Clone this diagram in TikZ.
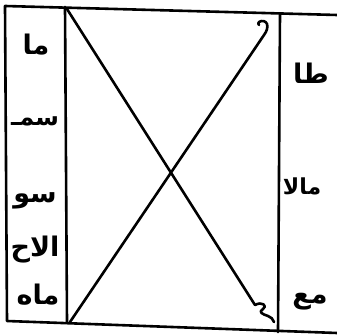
\documentclass[tikz,border=0pt]{standalone}
\usepackage{fontspec}
\newfontfamily\arabicfont[Script=Arabic]{DejaVu Sans}
\TeXXeTstate=1
\begin{document}
\begin{tikzpicture}[x=1pt,y=-1pt,
  ink/.style={line width=2.6pt,line cap=round,line join=round,black},
  lbl/.style={font=\arabicfont\bfseries\fontsize{27}{30}\selectfont,inner sep=0pt,anchor=center}]
\useasboundingbox (0,0) rectangle (337,336);
% frame
\coordinate (tl) at (5,6);
\coordinate (tr) at (337,15);
\coordinate (bl) at (7,321);
\coordinate (br) at (337,333);
\coordinate (c1t) at (65,7);
\coordinate (c1b) at (67,322);
\coordinate (c2t) at (280,14);
\coordinate (c2b) at (278,332);
\draw[ink] (tr) -- (tl) -- (bl) -- (br);
\draw[ink] (c1t) -- (c1b);
\draw[ink] (c2t) -- (c2b);
% diagonals
\coordinate (d1s) at (67,9);
\coordinate (d1e) at (255,305);
\coordinate (d2s) at (70,322);
\coordinate (d2e) at (264,35);
\draw[ink] (d1s) -- (d1e) .. controls (262,301) and (268,306) .. (263,309)
  .. controls (258,312) and (262,314) .. (268,316)
  .. controls (271,317) and (273,319) .. (274,322);
\draw[ink] (d2s) -- (d2e) .. controls (267,31) and (268,27) .. (267,24)
  .. controls (266,21) and (262,20) .. (259,22)
  .. controls (258,23) and (258,24) .. (259,25);
% left column labels
\node[lbl] (l1) at (36,45) {\beginR ما\endR};
\node[lbl,font=\arabicfont\bfseries\fontsize{24}{26}\selectfont] (l2) at (35,121) {\beginR سمـ\endR};
\node[lbl] (l3) at (35,201) {\beginR سو\endR};
\node[lbl] (l4) at (35,250) {\beginR الاح\endR};
\node[lbl] (l5) at (38,295) {\beginR ماه\endR};
% right column labels
\node[lbl] (r1) at (311,73) {\beginR طا\endR};
\node[lbl,font=\arabicfont\bfseries\fontsize{22}{24}\selectfont] (r2) at (302,186) {\beginR مالا\endR};
\node[lbl] (r3) at (310,302) {\beginR مع\endR};
\end{tikzpicture}
\end{document}
